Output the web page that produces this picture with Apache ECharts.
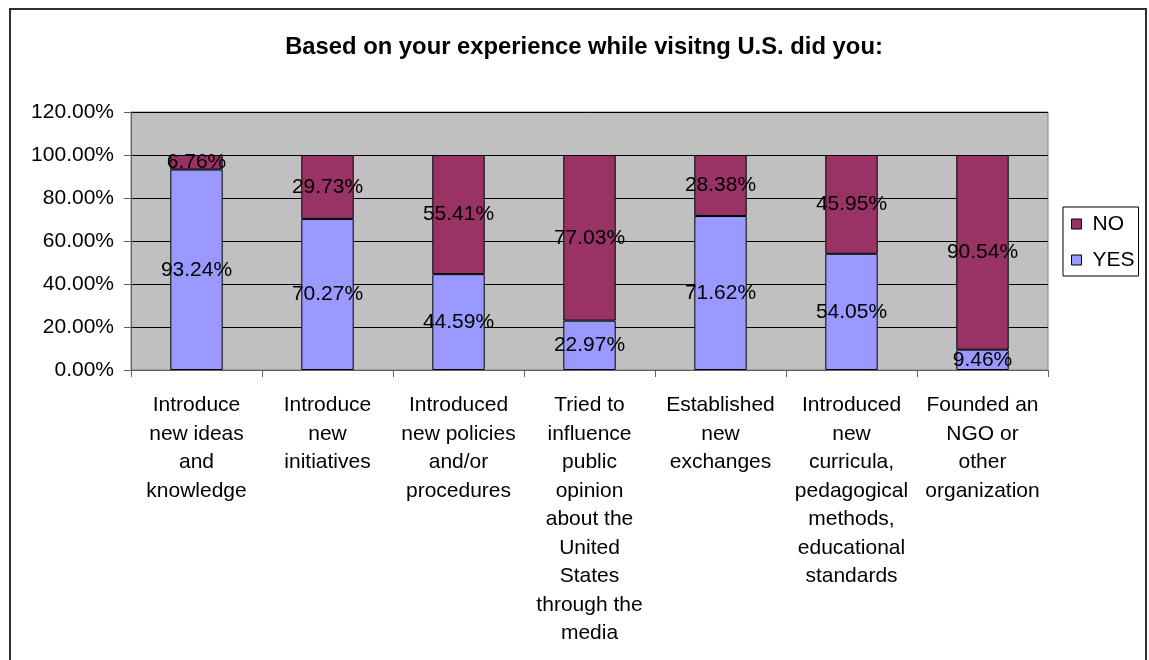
<!DOCTYPE html>
<html>
<head>
<meta charset="utf-8">
<script src="https://cdn.jsdelivr.net/npm/echarts@6/dist/echarts.min.js"></script>
<style>
  html, body { margin: 0; padding: 0; background: #fff; }
  #chart { width: 1149px; height: 660px; }
</style>
</head>
<body>
<div id="chart"></div>
<script>
// Survey outcome categories (line breaks as laid out under each column)
const categories = [
  'Introduce\nnew ideas\nand\nknowledge',
  'Introduce\nnew\ninitiatives',
  'Introduced\nnew policies\nand/or\nprocedures',
  'Tried to\ninfluence\npublic\nopinion\nabout the\nUnited\nStates\nthrough the\nmedia',
  'Established\nnew\nexchanges',
  'Introduced\nnew\ncurricula,\npedagogical\nmethods,\neducational\nstandards',
  'Founded an\nNGO or\nother\norganization'
];

// Share of respondents (percent)
const yesValues = [93.24, 70.27, 44.59, 22.97, 71.62, 54.05, 9.46];
const noValues  = [6.76, 29.73, 55.41, 77.03, 28.38, 45.95, 90.54];

const FONT = '"Liberation Sans", Arial, sans-serif';
const FS = 21;

const chart = echarts.init(document.getElementById('chart'), null, { renderer: 'canvas' });

const segLabel = {
  show: true,
  position: 'inside',
  color: '#000',
  fontFamily: FONT,
  fontSize: FS,
  formatter: p => p.value.toFixed(2) + '%'
};

chart.setOption({
  animation: false,
  backgroundColor: '#fff',
  textStyle: { fontFamily: FONT },
  title: {
    text: 'Based on your experience while visitng U.S. did you:',
    left: 579,
    top: 30,
    textAlign: 'center',
    textStyle: { fontFamily: FONT, fontSize: 23.8, fontWeight: 'bold', color: '#000' }
  },
  legend: {
    orient: 'vertical',
    left: 1063,
    top: 207,
    padding: [6.5, 4, 5.5, 8],
    itemGap: 15,
    itemWidth: 10,
    itemHeight: 10,
    icon: 'rect',
    borderColor: '#000',
    borderWidth: 1,
    backgroundColor: '#fff',
    data: ['NO', 'YES'],
    itemStyle: { borderColor: '#000', borderWidth: 1 },
    textStyle: { fontFamily: FONT, fontSize: FS, color: '#000', padding: [1, 0, 0, 6] }
  },
  grid: {
    left: 131,
    right: 101,
    top: 112,
    bottom: 290,
    show: true,
    backgroundColor: '#C0C0C0',
    borderColor: '#808080',
    borderWidth: 1,
    containLabel: false
  },
  xAxis: {
    type: 'category',
    data: categories,
    axisLine: { lineStyle: { color: '#606060', width: 1 } },
    axisTick: { show: true, length: 7, lineStyle: { color: '#606060' } },
    axisLabel: {
      interval: 0,
      margin: 21,
      color: '#000',
      fontFamily: FONT,
      fontSize: FS,
      lineHeight: 28.5
    }
  },
  yAxis: {
    type: 'value',
    min: 0,
    max: 120,
    interval: 20,
    axisLine: { show: true, lineStyle: { color: '#606060', width: 1 } },
    axisTick: { show: true, length: 7, lineStyle: { color: '#606060' } },
    splitLine: { show: true, lineStyle: { color: '#000', width: 1 } },
    axisLabel: {
      margin: 17,
      color: '#000',
      fontFamily: FONT,
      fontSize: FS,
      formatter: v => v.toFixed(2) + '%'
    }
  },
  series: [
    {
      name: 'YES',
      type: 'bar',
      stack: 'total',
      barWidth: '40%',
      data: yesValues,
      itemStyle: { color: '#9999FF', borderColor: '#000', borderWidth: 1 },
      label: segLabel
    },
    {
      name: 'NO',
      type: 'bar',
      stack: 'total',
      barWidth: '40%',
      data: noValues,
      itemStyle: { color: '#993366', borderColor: '#000', borderWidth: 1 },
      label: segLabel
    }
  ],
  graphic: [
    {
      type: 'rect',
      shape: { x: 10, y: 9, width: 1136, height: 700 },
      style: { fill: null, stroke: '#303030', lineWidth: 2 },
      silent: true,
      z: 100
    }
  ]
});
</script>
</body>
</html>
